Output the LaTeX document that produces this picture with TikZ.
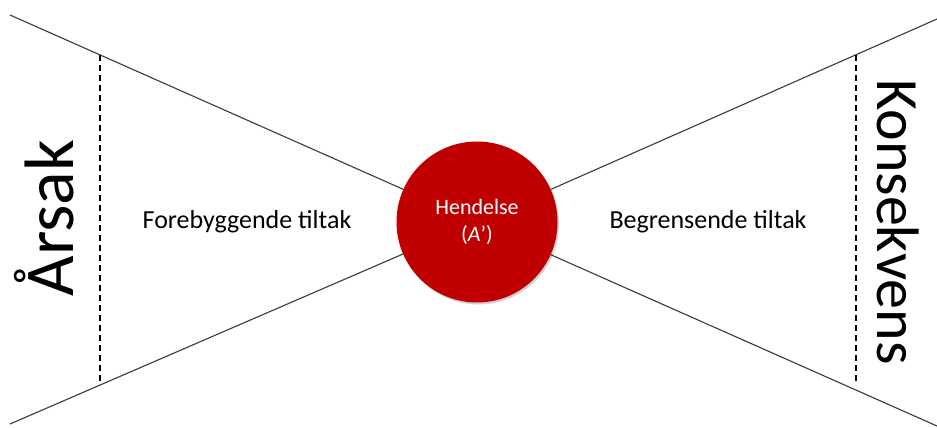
\documentclass[tikz,border=0pt]{standalone}
\usepackage{fontspec}
\setmainfont{Carlito}
\usetikzlibrary{shadows}
\definecolor{evred}{HTML}{C00000}
\definecolor{linegray}{HTML}{3A3A3A}
\tikzset{
  wing/.style={draw=linegray, line width=1.1pt},
  divider/.style={draw=black, line width=1.3pt, dash pattern=on 6pt off 4pt},
  event/.style={circle, fill=evred, minimum size=161pt, inner sep=0pt, text=white,
    font=\fontsize{22}{27}\selectfont, align=center,
    drop shadow={shadow xshift=1.5pt, shadow yshift=-2pt, opacity=0.35}},
  midlabel/.style={font=\fontsize{26}{30}\selectfont, text=black},
  sidelabel/.style={font=\fontsize{#1}{#1}\selectfont, text=black},
}
\begin{document}
\begin{tikzpicture}[x=1pt,y=-1pt]
\useasboundingbox[fill=white] (0,0) rectangle (937,428);
\node[event] (c) at (477,222) {Hendelse\\(\textit{A}’)};
\coordinate (tl) at (10,15);
\coordinate (bl) at (10,424);
\coordinate (tr) at (937,19);
\coordinate (br) at (937,426);
\draw[wing] (tl) -- (c);
\draw[wing] (bl) -- (c);
\draw[wing] (tr) -- (c);
\draw[wing] (br) -- (c);
\coordinate (lt) at (100,55);
\coordinate (lb) at (100,385);
\coordinate (rt) at (856,55);
\coordinate (rb) at (856,385);
\draw[divider] (lt) -- (lb);
\draw[divider] (rt) -- (rb);
\node[midlabel] (prev) at (247,222) {Forebyggende tiltak};
\node[midlabel] (mit) at (708,222) {Begrensende tiltak};
\node[sidelabel=70, rotate=90, anchor=center] (cause) at (44,218) {Årsak};
\node[sidelabel=60, rotate=-90, anchor=center] (cons) at (898,222) {Konsekvens};
\end{tikzpicture}
\end{document}
